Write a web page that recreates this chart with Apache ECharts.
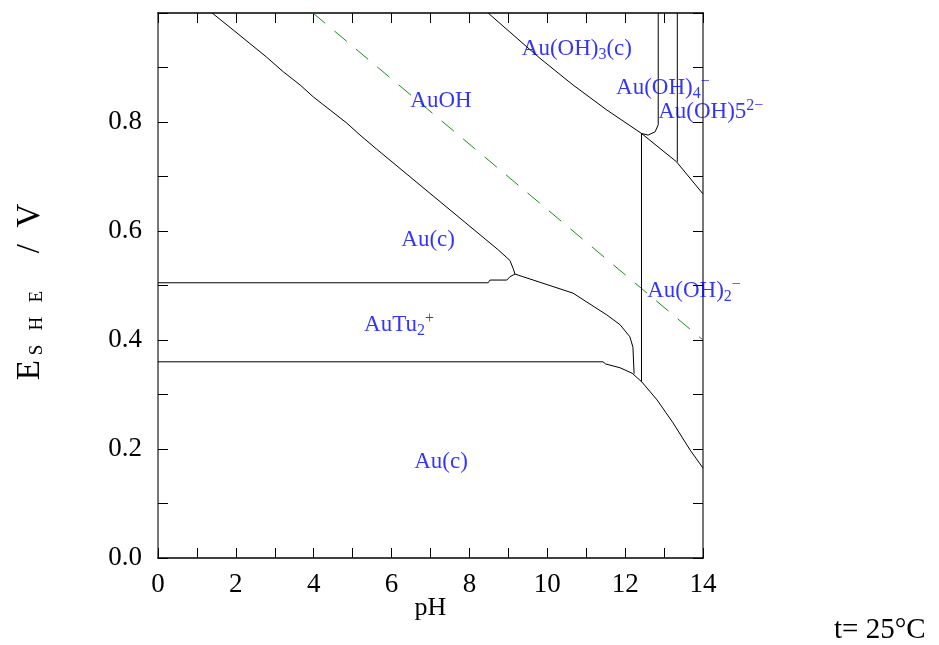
<!DOCTYPE html>
<html><head><meta charset="utf-8">
<script src="https://cdn.jsdelivr.net/npm/echarts@6/dist/echarts.min.js"></script>
<style>html,body{margin:0;padding:0;background:#fff}#c{width:939px;height:645px}</style>
</head><body><div id="c"></div>
<script>
// ---- data ----
const xTickLabels = [0, 2, 4, 6, 8, 10, 12, 14];
const yTickLabels = [0.0, 0.2, 0.4, 0.6, 0.8];
const auAuOH = [[1.39,1.0],[1.93,0.969],[2.36,0.944],[2.79,0.919],[3.22,0.892],[3.65,0.868],[3.99,0.846],[4.42,0.822],[4.85,0.798],[5.19,0.776],[5.62,0.750],[8.73,0.566],[9.04,0.546],[9.13,0.530],[9.17,0.521]];
const auTuUpper = [[0,0.505],[8.48,0.505],[8.53,0.510],[8.96,0.510],[9.04,0.516],[9.17,0.521],[9.38,0.516],[9.81,0.506],[10.66,0.486],[11.53,0.446],[11.87,0.428],[12.12,0.406],[12.2,0.387],[12.23,0.338]];
const auTuLower = [[0,0.36],[11.43,0.36],[11.5,0.356],[11.87,0.349],[12.18,0.339],[12.43,0.323],[12.82,0.29],[13.23,0.248],[13.67,0.198],[14,0.165]];
const auOH2Vertical = [[12.42,0.323],[12.42,0.779]];
const auOH3Line = [[8.48,1.0],[9.04,0.965],[9.81,0.917],[10.66,0.868],[11.53,0.822],[12.42,0.779],[13.32,0.727],[14,0.668]];
const auOH4Line = [[12.85,1.0],[12.85,0.795],[12.77,0.782],[12.59,0.776],[12.42,0.779]];
const auOH5Line = [[13.34,1.0],[13.34,0.727]];
const waterLine = [[3.98,1.0],[14,0.4]];
const speciesNames = ['{m|Au(OH)}{sub|3}{m|(c)}','{m|AuOH}','{m|Au(OH)}{sub|4}{sup|−}','{m|Au(OH)5}{sup|2−}','{m|Au(c)}','{m|Au(OH)}{sub|2}{sup|−}','{m|AuTu}{sub|2}{sup|+}','{m|Au(c)}'];
const speciesPH = [10.76, 7.27, 12.97, 14.2, 6.94, 13.77, 6.19, 7.27];
const speciesE  = [0.934, 0.839, 0.862, 0.818, 0.583, 0.49, 0.428, 0.176];

// ---- chart ----
const FONT = 'Liberation Serif';
const BLUE = '#0000ff';
const chart = echarts.init(document.getElementById('c'), null, {renderer: 'canvas'});
const near = (v, arr) => arr.some(a => Math.abs(a - v) < 1e-6);
const blk = (data) => ({type:'line', data, showSymbol:false, symbol:'none', silent:true,
  lineStyle:{color:'#000', width:1}, z:3});
const labelRich = {
  m:{fontFamily:FONT, fontSize:23, color:BLUE, lineHeight:28},
  sub:{fontFamily:FONT, fontSize:16, color:BLUE, lineHeight:12, verticalAlign:'bottom'},
  sup:{fontFamily:FONT, fontSize:16, color:BLUE, lineHeight:12, verticalAlign:'top'}
};
const axisBase = (extra) => Object.assign({
  type:'value', splitLine:{show:false},
  axisTick:{show:true, inside:true, length:10, lineStyle:{color:'#000'}}
}, extra);
const option = {
  backgroundColor:'#fff',
  animation:false,
  grid:{left:158, right:236, top:13, bottom:87, containLabel:false},
  xAxis:[axisBase({
    min:0, max:14, interval:1, position:'bottom',
    axisLine:{show:true, onZero:false, lineStyle:{color:'#000', width:1.5}},
    axisLabel:{formatter:v => near(v, xTickLabels) ? String(v) : '', fontFamily:FONT, fontSize:27, color:'#000', margin:13},
    name:'pH', nameLocation:'middle', nameGap:37, nameMoveOverlap:false,
    nameTextStyle:{fontFamily:FONT, fontSize:26, color:'#000'}
  }), axisBase({
    min:0, max:14, interval:1, position:'top',
    axisLine:{show:true, onZero:false, lineStyle:{color:'#000', width:1.5}},
    axisLabel:{show:false}
  })],
  yAxis:[axisBase({
    min:0, max:1, interval:0.1, position:'left',
    axisLine:{show:true, onZero:false, lineStyle:{color:'#777', width:2}},
    axisLabel:{formatter:v => near(v, yTickLabels) ? v.toFixed(1) : '', fontFamily:FONT, fontSize:27, color:'#000', margin:16}
  }), axisBase({
    min:0, max:1, interval:0.1, position:'right',
    axisLine:{show:true, onZero:false, lineStyle:{color:'#777', width:2}},
    axisLabel:{show:false}
  })],
  graphic:[{
    type:'text', x:30, y:292, rotation:Math.PI/2,
    style:{text:'{e|E}{s| S   H   E }{n|    /  V}', align:'center', verticalAlign:'middle',
      rich:{
        e:{fontFamily:FONT, fontSize:33, color:'#000', lineHeight:34},
        s:{fontFamily:FONT, fontSize:19, color:'#000', lineHeight:16, verticalAlign:'bottom'},
        n:{fontFamily:FONT, fontSize:33, color:'#000', lineHeight:34}
      }}
  },{
    type:'text', left:834, top:616,
    style:{text:'t= 25°C', fontFamily:FONT, fontSize:29, fill:'#000'}
  }],
  series:[
    blk(auAuOH), blk(auTuUpper), blk(auTuLower), blk(auOH2Vertical),
    blk(auOH3Line), blk(auOH4Line), blk(auOH5Line),
    {type:'line', data:waterLine, showSymbol:false, symbol:'none', silent:true,
      lineStyle:{color:'#1a8a1a', width:1, type:[16,12]}, z:2},
    {type:'scatter', silent:true, clip:false, symbolSize:1,
      itemStyle:{color:'rgba(0,0,0,0)'},
      data: speciesNames.map((t, i) => ({value:[speciesPH[i], speciesE[i]],
        label:{show:true, position:'inside', formatter:t, rich:labelRich}})),
      z:5}
  ]
};
chart.setOption(option);
</script>
</body></html>
